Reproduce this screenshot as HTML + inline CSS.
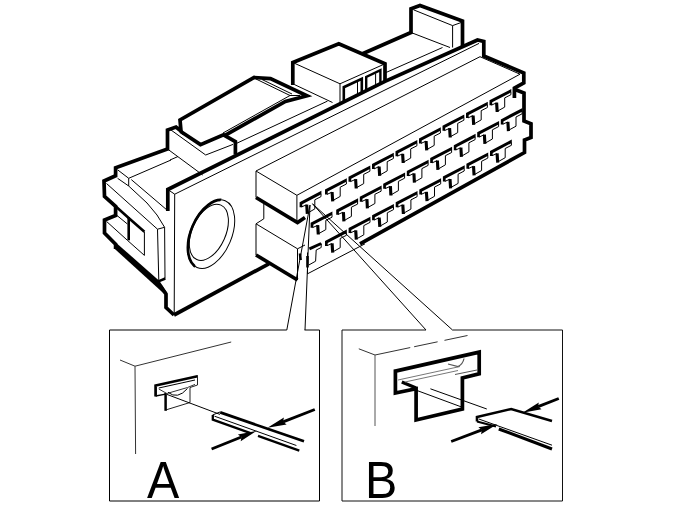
<!DOCTYPE html>
<html><head><meta charset="utf-8"><title>Connector</title>
<style>
html,body{margin:0;padding:0;background:#fff;}
body{width:674px;height:505px;overflow:hidden;position:relative;font-family:"Liberation Sans",sans-serif;}
svg{position:absolute;left:0;top:0;display:block;}
.lbl{position:absolute;font-family:"Liberation Sans",sans-serif;font-size:52px;line-height:1;color:#000;transform:scaleX(0.93);transform-origin:0 0;}
</style></head><body>
<svg width="674" height="505" viewBox="0 0 674 505">
<rect width="674" height="505" fill="#fff"/>
<path d="M174.0,315.0 L166.0,307.5 L166.0,294.0 L160.0,285.5" fill="none" stroke="#000" stroke-width="3.7" stroke-linejoin="miter" stroke-linecap="butt"/>
<path d="M114.6,241.4 L159.5,281 L167,292.5 L166.5,295 L163.5,293.2 L114.6,248.8Z" fill="#000"/>
<path d="M158.5,281.3 L165.3,278.5" fill="none" stroke="#000" stroke-width="2.5" stroke-linejoin="miter" stroke-linecap="butt"/>
<path d="M115.6,249.0 L115.6,244.3 L104.5,233.0 L104.5,220.0 L115.6,215.5 L115.6,206.3 L104.5,196.5 L104.0,181.0 L115.6,175.7 L115.6,167.8 L167.5,149.0 L167.5,130.0 L176.0,127.0 L181.0,131.0 L180.0,120.0 L254.2,77.5 L270.5,78.6 L307.0,95.7 L285.4,101.5 L224.5,135.6" fill="none" stroke="#000" stroke-width="3.7" stroke-linejoin="miter" stroke-linecap="butt"/>
<path d="M115.6,206.3 L128.7,218.0 L144.4,231.8" fill="none" stroke="#000" stroke-width="2.6" stroke-linejoin="miter" stroke-linecap="butt"/>
<path d="M128.7,217.0 L128.7,240.3" fill="none" stroke="#000" stroke-width="2.6" stroke-linejoin="miter" stroke-linecap="butt"/>
<path d="M144.4,231.8 L144.4,255.4" fill="none" stroke="#000" stroke-width="1" stroke-linejoin="miter" stroke-linecap="butt"/>
<path d="M117.0,215.5 L127.4,224.0" fill="none" stroke="#000" stroke-width="1" stroke-linejoin="miter" stroke-linecap="butt"/>
<path d="M106.5,221.4 L127.4,240.3 L144.4,255.4" fill="none" stroke="#000" stroke-width="1" stroke-linejoin="miter" stroke-linecap="butt"/>
<path d="M157.5,229.2 L158.8,281.0 L165.0,278.5 L164.6,227.3 L157.5,229.2" fill="none" stroke="#000" stroke-width="1" stroke-linejoin="miter" stroke-linecap="butt"/>
<path d="M106.5,183.5 L157.5,229.2" fill="none" stroke="#000" stroke-width="1" stroke-linejoin="miter" stroke-linecap="butt"/>
<path d="M131.3,179.6 L166.6,209.7" fill="none" stroke="#000" stroke-width="1" stroke-linejoin="miter" stroke-linecap="butt"/>
<path d="M180.4,131.2 L200.5,144.6 L223.5,134.9 L235.4,141.6 L235.4,154.5" fill="none" stroke="#000" stroke-width="3.7" stroke-linejoin="miter" stroke-linecap="butt"/>
<path d="M292.8,85.0 L292.8,62.5 L338.8,43.8 L385.0,63.8 L385.0,81.0" fill="none" stroke="#000" stroke-width="3.7" stroke-linejoin="miter" stroke-linecap="butt"/>
<path d="M362.5,53.8 L411.0,32.5 L411.0,8.8 L420.0,5.5 L462.5,21.0 L462.5,46.0" fill="none" stroke="#000" stroke-width="3.7" stroke-linejoin="miter" stroke-linecap="butt"/>
<path d="M167.8,211.0 L167.8,189.5 L385.0,81.4 L477.5,40.0 L483.8,41.5 L483.8,56.0 L523.8,73.0 L523.8,83.0 L514.4,88.0 L514.4,98.0" fill="none" stroke="#000" stroke-width="3.7" stroke-linejoin="miter" stroke-linecap="butt"/>
<path d="M515.0,89.5 L524.0,93.0 L524.0,121.0 L531.0,123.8 L531.0,137.5 L524.5,140.0 L524.5,152.5 L360.0,243.8" fill="none" stroke="#000" stroke-width="3.7" stroke-linejoin="miter" stroke-linecap="butt"/>
<path d="M174.0,315.0 L268.8,263.8" fill="none" stroke="#000" stroke-width="3.7" stroke-linejoin="miter" stroke-linecap="butt"/>
<path d="M256.0,255.0 L297.5,280.0" fill="none" stroke="#000" stroke-width="3.7" stroke-linejoin="miter" stroke-linecap="butt"/>
<path d="M256.0,197.5 L297.5,222.5 L305.0,217.5" fill="none" stroke="#000" stroke-width="3.7" stroke-linejoin="miter" stroke-linecap="butt"/>
<path d="M343.8,101.0 L343.8,87.2 L361.8,78.8 L361.8,92.5" fill="none" stroke="#000" stroke-width="2.6" stroke-linejoin="miter" stroke-linecap="butt"/>
<path d="M357.5,81.5 L357.5,94.5" fill="none" stroke="#000" stroke-width="1" stroke-linejoin="miter" stroke-linecap="butt"/>
<path d="M366.2,90.0 L366.2,77.0 L380.4,70.2 L380.4,83.0" fill="none" stroke="#000" stroke-width="2.4" stroke-linejoin="miter" stroke-linecap="butt"/>
<path d="M375.6,73.5 L375.6,85.5" fill="none" stroke="#000" stroke-width="1" stroke-linejoin="miter" stroke-linecap="butt"/>
<path d="M168.5,190.0 L174.7,194.2 L174.2,315.0" fill="none" stroke="#000" stroke-width="1" stroke-linejoin="miter" stroke-linecap="butt"/>
<defs><clipPath id="cl"><path d="M222.5,196 L170,185 L170,285 L194.5,268 Z"/></clipPath></defs>
<ellipse cx="211.1" cy="234.1" rx="20.55" ry="36.2" transform="rotate(22.9 211.1 234.1)" fill="none" stroke="#000" stroke-width="1"/>
<g clip-path="url(#cl)"><ellipse cx="211.5" cy="234.3" rx="20.55" ry="36.2" transform="rotate(22.9 211.5 234.3)" fill="none" stroke="#000" stroke-width="2.7"/></g>
<ellipse cx="208.85" cy="232.35" rx="16.8" ry="29.8" transform="rotate(24 208.85 232.35)" fill="none" stroke="#000" stroke-width="1"/>
<path d="M296.9,195.3 L256.0,171.0 L480.0,56.7 L520.0,74.2" fill="none" stroke="#000" stroke-width="1" stroke-linejoin="miter" stroke-linecap="butt"/>
<path d="M256.0,171.0 L256.0,197.5" fill="none" stroke="#000" stroke-width="1" stroke-linejoin="miter" stroke-linecap="butt"/>
<path d="M296.9,195.3 L296.9,221.0" fill="none" stroke="#000" stroke-width="1" stroke-linejoin="miter" stroke-linecap="butt"/>
<path d="M296.9,195.3 L520.0,74.2" fill="none" stroke="#000" stroke-width="1" stroke-linejoin="miter" stroke-linecap="butt"/>
<path d="M263.8,203.8 L263.8,218.8 L256.0,223.8 L256.0,255.0" fill="none" stroke="#000" stroke-width="1" stroke-linejoin="miter" stroke-linecap="butt"/>
<path d="M256.0,223.8 L297.5,248.8 L305.0,245.0" fill="none" stroke="#000" stroke-width="1" stroke-linejoin="miter" stroke-linecap="butt"/>
<path d="M297.5,248.8 L297.5,280.0" fill="none" stroke="#000" stroke-width="1" stroke-linejoin="miter" stroke-linecap="butt"/>
<path d="M307.5,252.5 L307.5,273.8 L365.0,243.8" fill="none" stroke="#000" stroke-width="1" stroke-linejoin="miter" stroke-linecap="butt"/>
<path d="M174.5,194.3 L479.0,43.4" fill="none" stroke="#000" stroke-width="1" stroke-linejoin="miter" stroke-linecap="butt"/>
<path d="M292.8,62.5 L340.0,83.8 L385.0,63.8" fill="none" stroke="#000" stroke-width="1" stroke-linejoin="miter" stroke-linecap="butt"/>
<path d="M340.0,83.8 L340.0,103.8" fill="none" stroke="#000" stroke-width="1" stroke-linejoin="miter" stroke-linecap="butt"/>
<path d="M294.3,84.5 L332.5,102.5" fill="none" stroke="#000" stroke-width="1" stroke-linejoin="miter" stroke-linecap="butt"/>
<path d="M413.5,9.8 L452.6,25.6 L452.6,47.5" fill="none" stroke="#000" stroke-width="1" stroke-linejoin="miter" stroke-linecap="butt"/>
<path d="M452.6,25.6 L462.5,22.0" fill="none" stroke="#000" stroke-width="1" stroke-linejoin="miter" stroke-linecap="butt"/>
<path d="M411.0,32.5 L450.0,47.5" fill="none" stroke="#000" stroke-width="1" stroke-linejoin="miter" stroke-linecap="butt"/>
<path d="M386.0,72.5 L442.5,47.5" fill="none" stroke="#000" stroke-width="1" stroke-linejoin="miter" stroke-linecap="butt"/>
<path d="M256.0,79.0 L290.0,95.5 L300.0,95.5" fill="none" stroke="#000" stroke-width="1" stroke-linejoin="miter" stroke-linecap="butt"/>
<path d="M290.0,95.5 L223.0,133.0" fill="none" stroke="#000" stroke-width="1" stroke-linejoin="miter" stroke-linecap="butt"/>
<path d="M262.0,79.5 L292.0,94.0" fill="none" stroke="#000" stroke-width="1" stroke-linejoin="miter" stroke-linecap="butt"/>
<path d="M167.5,149.0 L202.7,175.0" fill="none" stroke="#000" stroke-width="1" stroke-linejoin="miter" stroke-linecap="butt"/>
<path d="M170.0,160.0 L178.0,156.5" fill="none" stroke="#000" stroke-width="1" stroke-linejoin="miter" stroke-linecap="butt"/>
<path d="M171.0,130.0 L205.7,155.0 L233.0,144.4" fill="none" stroke="#000" stroke-width="1" stroke-linejoin="miter" stroke-linecap="butt"/>
<path d="M117.6,169.8 L128.7,178.3 L171.0,160.0" fill="none" stroke="#000" stroke-width="1" stroke-linejoin="miter" stroke-linecap="butt"/>
<path d="M128.7,178.3 L128.7,186.0" fill="none" stroke="#000" stroke-width="1" stroke-linejoin="miter" stroke-linecap="butt"/>
<path d="M117.6,178.3 L128.7,186.0 L147.0,203.0 L157.0,215.0 L164.6,227.3" fill="none" stroke="#000" stroke-width="1" stroke-linejoin="round" stroke-linecap="butt"/>
<path d="M236.0,143.6 L327.5,101.1" fill="none" stroke="#000" stroke-width="1" stroke-linejoin="miter" stroke-linecap="butt"/>
<path d="M310.0,205.0 L286.8,330.0" fill="none" stroke="#000" stroke-width="1" stroke-linejoin="miter" stroke-linecap="butt"/>
<path d="M310.0,205.0 L305.0,330.0" fill="none" stroke="#000" stroke-width="1" stroke-linejoin="miter" stroke-linecap="butt"/>
<path d="M312.5,203.8 L426.0,330.0" fill="none" stroke="#000" stroke-width="1" stroke-linejoin="miter" stroke-linecap="butt"/>
<path d="M312.5,203.8 L452.5,330.0" fill="none" stroke="#000" stroke-width="1" stroke-linejoin="miter" stroke-linecap="butt"/>
<path d="M299.6,202.2 L321.4,190.8 L321.4,194.2 L302.3,204.2 L302.3,207.2 L299.6,207.2Z" fill="#000"/>
<path d="M306.7,204.6 L307.3,213.8" fill="none" stroke="#000" stroke-width="3.1" stroke-linejoin="miter" stroke-linecap="butt"/>
<path d="M301.6,206.9 L306.5,204.8" fill="none" stroke="#000" stroke-width="1" stroke-linejoin="miter" stroke-linecap="butt"/>
<path d="M308.1,212.8 L314.8,208.9 L314.8,199.8 L321.0,196.6 L321.0,193.9" fill="none" stroke="#000" stroke-width="1" stroke-linejoin="miter" stroke-linecap="butt"/>
<path d="M310.6,222.8 L332.4,211.5 L332.4,214.8 L313.3,224.8 L313.3,227.8 L310.6,227.8Z" fill="#000"/>
<path d="M317.7,225.2 L318.3,234.5" fill="none" stroke="#000" stroke-width="3.1" stroke-linejoin="miter" stroke-linecap="butt"/>
<path d="M312.6,227.6 L317.5,225.4" fill="none" stroke="#000" stroke-width="1" stroke-linejoin="miter" stroke-linecap="butt"/>
<path d="M319.1,233.4 L325.8,229.6 L325.8,220.4 L332.0,217.2 L332.0,214.6" fill="none" stroke="#000" stroke-width="1" stroke-linejoin="miter" stroke-linecap="butt"/>
<path d="M325.0,189.6 L346.8,178.3 L346.8,181.6 L327.7,191.6 L327.7,194.6 L325.0,194.6Z" fill="#000"/>
<path d="M332.1,192.0 L332.7,201.3" fill="none" stroke="#000" stroke-width="3.1" stroke-linejoin="miter" stroke-linecap="butt"/>
<path d="M327.0,194.4 L331.9,192.2" fill="none" stroke="#000" stroke-width="1" stroke-linejoin="miter" stroke-linecap="butt"/>
<path d="M333.5,200.2 L340.2,196.4 L340.2,187.2 L346.4,184.0 L346.4,181.4" fill="none" stroke="#000" stroke-width="1" stroke-linejoin="miter" stroke-linecap="butt"/>
<path d="M336.2,209.7 L358.1,198.3 L358.1,201.7 L338.9,211.7 L338.9,214.7 L336.2,214.7Z" fill="#000"/>
<path d="M343.4,212.1 L343.9,221.3" fill="none" stroke="#000" stroke-width="3.1" stroke-linejoin="miter" stroke-linecap="butt"/>
<path d="M338.2,214.4 L343.1,212.2" fill="none" stroke="#000" stroke-width="1" stroke-linejoin="miter" stroke-linecap="butt"/>
<path d="M344.8,220.2 L351.4,216.4 L351.4,207.2 L357.6,204.1 L357.6,201.4" fill="none" stroke="#000" stroke-width="1" stroke-linejoin="miter" stroke-linecap="butt"/>
<path d="M325.0,240.9 L346.8,229.6 L346.8,232.9 L327.7,242.9 L327.7,245.9 L325.0,245.9Z" fill="#000"/>
<path d="M332.1,243.3 L332.7,252.6" fill="none" stroke="#000" stroke-width="3.1" stroke-linejoin="miter" stroke-linecap="butt"/>
<path d="M327.0,245.7 L331.9,243.5" fill="none" stroke="#000" stroke-width="1" stroke-linejoin="miter" stroke-linecap="butt"/>
<path d="M333.5,251.5 L340.2,247.7 L340.2,238.5 L346.4,235.3 L346.4,232.7" fill="none" stroke="#000" stroke-width="1" stroke-linejoin="miter" stroke-linecap="butt"/>
<path d="M348.5,176.8 L370.3,165.5 L370.3,168.8 L351.2,178.8 L351.2,181.8 L348.5,181.8Z" fill="#000"/>
<path d="M355.6,179.2 L356.2,188.5" fill="none" stroke="#000" stroke-width="3.1" stroke-linejoin="miter" stroke-linecap="butt"/>
<path d="M350.5,181.6 L355.4,179.4" fill="none" stroke="#000" stroke-width="1" stroke-linejoin="miter" stroke-linecap="butt"/>
<path d="M357.0,187.4 L363.7,183.6 L363.7,174.4 L369.9,171.2 L369.9,168.6" fill="none" stroke="#000" stroke-width="1" stroke-linejoin="miter" stroke-linecap="butt"/>
<path d="M359.8,196.8 L381.6,185.4 L381.6,188.8 L362.4,198.8 L362.4,201.8 L359.8,201.8Z" fill="#000"/>
<path d="M366.9,199.2 L367.4,208.4" fill="none" stroke="#000" stroke-width="3.1" stroke-linejoin="miter" stroke-linecap="butt"/>
<path d="M361.8,201.5 L366.6,199.3" fill="none" stroke="#000" stroke-width="1" stroke-linejoin="miter" stroke-linecap="butt"/>
<path d="M368.2,207.3 L374.9,203.5 L374.9,194.3 L381.1,191.2 L381.1,188.5" fill="none" stroke="#000" stroke-width="1" stroke-linejoin="miter" stroke-linecap="butt"/>
<path d="M348.6,228.0 L370.4,216.7 L370.4,220.0 L351.3,230.0 L351.3,233.0 L348.6,233.0Z" fill="#000"/>
<path d="M355.7,230.4 L356.3,239.7" fill="none" stroke="#000" stroke-width="3.1" stroke-linejoin="miter" stroke-linecap="butt"/>
<path d="M350.6,232.8 L355.5,230.6" fill="none" stroke="#000" stroke-width="1" stroke-linejoin="miter" stroke-linecap="butt"/>
<path d="M357.1,238.6 L363.8,234.8 L363.8,225.6 L370.0,222.4 L370.0,219.8" fill="none" stroke="#000" stroke-width="1" stroke-linejoin="miter" stroke-linecap="butt"/>
<path d="M372.0,164.1 L393.8,152.8 L393.8,156.1 L374.7,166.1 L374.7,169.1 L372.0,169.1Z" fill="#000"/>
<path d="M379.1,166.5 L379.7,175.8" fill="none" stroke="#000" stroke-width="3.1" stroke-linejoin="miter" stroke-linecap="butt"/>
<path d="M374.0,168.9 L378.9,166.7" fill="none" stroke="#000" stroke-width="1" stroke-linejoin="miter" stroke-linecap="butt"/>
<path d="M380.5,174.7 L387.2,170.9 L387.2,161.7 L393.4,158.5 L393.4,155.9" fill="none" stroke="#000" stroke-width="1" stroke-linejoin="miter" stroke-linecap="butt"/>
<path d="M383.2,183.8 L405.1,172.5 L405.1,175.8 L385.9,185.8 L385.9,188.8 L383.2,188.8Z" fill="#000"/>
<path d="M390.4,186.2 L390.9,195.5" fill="none" stroke="#000" stroke-width="3.1" stroke-linejoin="miter" stroke-linecap="butt"/>
<path d="M385.2,188.6 L390.1,186.4" fill="none" stroke="#000" stroke-width="1" stroke-linejoin="miter" stroke-linecap="butt"/>
<path d="M391.8,194.4 L398.4,190.6 L398.4,181.4 L404.6,178.2 L404.6,175.6" fill="none" stroke="#000" stroke-width="1" stroke-linejoin="miter" stroke-linecap="butt"/>
<path d="M372.1,215.2 L393.9,203.9 L393.9,207.2 L374.8,217.2 L374.8,220.2 L372.1,220.2Z" fill="#000"/>
<path d="M379.2,217.6 L379.8,226.9" fill="none" stroke="#000" stroke-width="3.1" stroke-linejoin="miter" stroke-linecap="butt"/>
<path d="M374.1,220.0 L379.0,217.8" fill="none" stroke="#000" stroke-width="1" stroke-linejoin="miter" stroke-linecap="butt"/>
<path d="M380.6,225.8 L387.3,222.0 L387.3,212.8 L393.5,209.6 L393.5,207.0" fill="none" stroke="#000" stroke-width="1" stroke-linejoin="miter" stroke-linecap="butt"/>
<path d="M395.5,151.3 L417.3,140.0 L417.3,143.3 L398.2,153.3 L398.2,156.3 L395.5,156.3Z" fill="#000"/>
<path d="M402.6,153.8 L403.2,163.0" fill="none" stroke="#000" stroke-width="3.1" stroke-linejoin="miter" stroke-linecap="butt"/>
<path d="M397.5,156.1 L402.4,153.9" fill="none" stroke="#000" stroke-width="1" stroke-linejoin="miter" stroke-linecap="butt"/>
<path d="M404.0,161.9 L410.7,158.1 L410.7,148.9 L416.9,145.8 L416.9,143.1" fill="none" stroke="#000" stroke-width="1" stroke-linejoin="miter" stroke-linecap="butt"/>
<path d="M406.8,171.0 L428.6,159.7 L428.6,163.0 L409.4,173.0 L409.4,176.0 L406.8,176.0Z" fill="#000"/>
<path d="M413.9,173.4 L414.4,182.7" fill="none" stroke="#000" stroke-width="3.1" stroke-linejoin="miter" stroke-linecap="butt"/>
<path d="M408.8,175.8 L413.6,173.6" fill="none" stroke="#000" stroke-width="1" stroke-linejoin="miter" stroke-linecap="butt"/>
<path d="M415.2,181.6 L421.9,177.8 L421.9,168.6 L428.1,165.4 L428.1,162.8" fill="none" stroke="#000" stroke-width="1" stroke-linejoin="miter" stroke-linecap="butt"/>
<path d="M395.7,202.3 L417.5,191.0 L417.5,194.3 L398.4,204.3 L398.4,207.3 L395.7,207.3Z" fill="#000"/>
<path d="M402.8,204.7 L403.4,214.0" fill="none" stroke="#000" stroke-width="3.1" stroke-linejoin="miter" stroke-linecap="butt"/>
<path d="M397.7,207.1 L402.6,204.9" fill="none" stroke="#000" stroke-width="1" stroke-linejoin="miter" stroke-linecap="butt"/>
<path d="M404.2,212.9 L410.9,209.1 L410.9,199.9 L417.1,196.7 L417.1,194.1" fill="none" stroke="#000" stroke-width="1" stroke-linejoin="miter" stroke-linecap="butt"/>
<path d="M419.0,138.6 L440.8,127.3 L440.8,130.6 L421.7,140.6 L421.7,143.6 L419.0,143.6Z" fill="#000"/>
<path d="M426.1,141.0 L426.7,150.3" fill="none" stroke="#000" stroke-width="3.1" stroke-linejoin="miter" stroke-linecap="butt"/>
<path d="M421.0,143.4 L425.9,141.2" fill="none" stroke="#000" stroke-width="1" stroke-linejoin="miter" stroke-linecap="butt"/>
<path d="M427.5,149.2 L434.2,145.4 L434.2,136.2 L440.4,133.0 L440.4,130.4" fill="none" stroke="#000" stroke-width="1" stroke-linejoin="miter" stroke-linecap="butt"/>
<path d="M430.2,158.1 L452.1,146.8 L452.1,150.1 L432.9,160.1 L432.9,163.1 L430.2,163.1Z" fill="#000"/>
<path d="M437.4,160.5 L437.9,169.8" fill="none" stroke="#000" stroke-width="3.1" stroke-linejoin="miter" stroke-linecap="butt"/>
<path d="M432.2,162.8 L437.1,160.7" fill="none" stroke="#000" stroke-width="1" stroke-linejoin="miter" stroke-linecap="butt"/>
<path d="M438.8,168.7 L445.4,164.8 L445.4,155.7 L451.6,152.5 L451.6,149.8" fill="none" stroke="#000" stroke-width="1" stroke-linejoin="miter" stroke-linecap="butt"/>
<path d="M419.3,189.5 L441.1,178.2 L441.1,181.5 L422.0,191.5 L422.0,194.5 L419.3,194.5Z" fill="#000"/>
<path d="M426.4,191.9 L427.0,201.2" fill="none" stroke="#000" stroke-width="3.1" stroke-linejoin="miter" stroke-linecap="butt"/>
<path d="M421.3,194.3 L426.2,192.1" fill="none" stroke="#000" stroke-width="1" stroke-linejoin="miter" stroke-linecap="butt"/>
<path d="M427.8,200.1 L434.5,196.3 L434.5,187.1 L440.7,183.9 L440.7,181.3" fill="none" stroke="#000" stroke-width="1" stroke-linejoin="miter" stroke-linecap="butt"/>
<path d="M442.5,125.8 L464.3,114.5 L464.3,117.8 L445.2,127.8 L445.2,130.8 L442.5,130.8Z" fill="#000"/>
<path d="M449.6,128.2 L450.2,137.5" fill="none" stroke="#000" stroke-width="3.1" stroke-linejoin="miter" stroke-linecap="butt"/>
<path d="M444.5,130.6 L449.4,128.4" fill="none" stroke="#000" stroke-width="1" stroke-linejoin="miter" stroke-linecap="butt"/>
<path d="M451.0,136.4 L457.7,132.6 L457.7,123.4 L463.9,120.2 L463.9,117.6" fill="none" stroke="#000" stroke-width="1" stroke-linejoin="miter" stroke-linecap="butt"/>
<path d="M453.8,145.2 L475.6,133.8 L475.6,137.2 L456.4,147.2 L456.4,150.2 L453.8,150.2Z" fill="#000"/>
<path d="M460.9,147.6 L461.4,156.8" fill="none" stroke="#000" stroke-width="3.1" stroke-linejoin="miter" stroke-linecap="butt"/>
<path d="M455.8,149.9 L460.6,147.8" fill="none" stroke="#000" stroke-width="1" stroke-linejoin="miter" stroke-linecap="butt"/>
<path d="M462.2,155.8 L468.9,151.9 L468.9,142.8 L475.1,139.6 L475.1,136.9" fill="none" stroke="#000" stroke-width="1" stroke-linejoin="miter" stroke-linecap="butt"/>
<path d="M442.9,176.6 L464.7,165.3 L464.7,168.6 L445.6,178.6 L445.6,181.6 L442.9,181.6Z" fill="#000"/>
<path d="M450.0,179.0 L450.6,188.3" fill="none" stroke="#000" stroke-width="3.1" stroke-linejoin="miter" stroke-linecap="butt"/>
<path d="M444.9,181.4 L449.8,179.2" fill="none" stroke="#000" stroke-width="1" stroke-linejoin="miter" stroke-linecap="butt"/>
<path d="M451.4,187.2 L458.1,183.4 L458.1,174.2 L464.2,171.0 L464.2,168.4" fill="none" stroke="#000" stroke-width="1" stroke-linejoin="miter" stroke-linecap="butt"/>
<path d="M466.0,113.1 L487.8,101.8 L487.8,105.1 L468.7,115.1 L468.7,118.1 L466.0,118.1Z" fill="#000"/>
<path d="M473.1,115.5 L473.7,124.8" fill="none" stroke="#000" stroke-width="3.1" stroke-linejoin="miter" stroke-linecap="butt"/>
<path d="M468.0,117.9 L472.9,115.7" fill="none" stroke="#000" stroke-width="1" stroke-linejoin="miter" stroke-linecap="butt"/>
<path d="M474.5,123.7 L481.2,119.9 L481.2,110.7 L487.4,107.5 L487.4,104.9" fill="none" stroke="#000" stroke-width="1" stroke-linejoin="miter" stroke-linecap="butt"/>
<path d="M477.2,132.2 L499.1,120.9 L499.1,124.2 L479.9,134.2 L479.9,137.2 L477.2,137.2Z" fill="#000"/>
<path d="M484.4,134.7 L484.9,143.9" fill="none" stroke="#000" stroke-width="3.1" stroke-linejoin="miter" stroke-linecap="butt"/>
<path d="M479.2,137.0 L484.1,134.8" fill="none" stroke="#000" stroke-width="1" stroke-linejoin="miter" stroke-linecap="butt"/>
<path d="M485.8,142.8 L492.4,139.0 L492.4,129.8 L498.6,126.6 L498.6,124.0" fill="none" stroke="#000" stroke-width="1" stroke-linejoin="miter" stroke-linecap="butt"/>
<path d="M466.4,163.7 L488.2,152.4 L488.2,155.7 L469.1,165.7 L469.1,168.7 L466.4,168.7Z" fill="#000"/>
<path d="M473.5,166.1 L474.1,175.4" fill="none" stroke="#000" stroke-width="3.1" stroke-linejoin="miter" stroke-linecap="butt"/>
<path d="M468.4,168.5 L473.3,166.3" fill="none" stroke="#000" stroke-width="1" stroke-linejoin="miter" stroke-linecap="butt"/>
<path d="M474.9,174.3 L481.6,170.5 L481.6,161.3 L487.8,158.1 L487.8,155.5" fill="none" stroke="#000" stroke-width="1" stroke-linejoin="miter" stroke-linecap="butt"/>
<path d="M489.5,100.3 L511.3,89.0 L511.3,92.3 L492.2,102.3 L492.2,105.3 L489.5,105.3Z" fill="#000"/>
<path d="M496.6,102.7 L497.2,112.0" fill="none" stroke="#000" stroke-width="3.1" stroke-linejoin="miter" stroke-linecap="butt"/>
<path d="M491.5,105.1 L496.4,102.9" fill="none" stroke="#000" stroke-width="1" stroke-linejoin="miter" stroke-linecap="butt"/>
<path d="M498.0,110.9 L504.7,107.1 L504.7,97.9 L510.9,94.7 L510.9,92.1" fill="none" stroke="#000" stroke-width="1" stroke-linejoin="miter" stroke-linecap="butt"/>
<path d="M500.8,119.4 L522.5,108.0 L522.5,111.4 L503.4,121.4 L503.4,124.4 L500.8,124.4Z" fill="#000"/>
<path d="M507.9,121.8 L508.4,131.1" fill="none" stroke="#000" stroke-width="3.1" stroke-linejoin="miter" stroke-linecap="butt"/>
<path d="M502.8,124.2 L507.6,122.0" fill="none" stroke="#000" stroke-width="1" stroke-linejoin="miter" stroke-linecap="butt"/>
<path d="M509.2,129.9 L516.0,126.2 L516.0,117.0 L522.1,113.8 L522.1,111.2" fill="none" stroke="#000" stroke-width="1" stroke-linejoin="miter" stroke-linecap="butt"/>
<path d="M490.0,150.9 L511.8,139.6 L511.8,142.9 L492.7,152.9 L492.7,155.9 L490.0,155.9Z" fill="#000"/>
<path d="M497.1,153.3 L497.7,162.6" fill="none" stroke="#000" stroke-width="3.1" stroke-linejoin="miter" stroke-linecap="butt"/>
<path d="M492.0,155.7 L496.9,153.5" fill="none" stroke="#000" stroke-width="1" stroke-linejoin="miter" stroke-linecap="butt"/>
<path d="M498.5,161.5 L505.2,157.7 L505.2,148.5 L511.4,145.3 L511.4,142.7" fill="none" stroke="#000" stroke-width="1" stroke-linejoin="miter" stroke-linecap="butt"/>
<path d="M300.0,253.5 L300.6,260.0" fill="none" stroke="#000" stroke-width="2.6" stroke-linejoin="miter" stroke-linecap="butt"/>
<path d="M307.5,256.0 L307.5,267.5" fill="none" stroke="#000" stroke-width="2.6" stroke-linejoin="miter" stroke-linecap="butt"/>
<path d="M309.4,248.9 L321.2,243.5" fill="none" stroke="#000" stroke-width="2.9" stroke-linejoin="miter" stroke-linecap="butt"/>
<path d="M321.2,243.5 L321.2,247.5 L316.2,250.0 L315.6,261.2 L308.8,265.0" fill="none" stroke="#000" stroke-width="1" stroke-linejoin="miter" stroke-linecap="butt"/>
<path d="M286.8,330.0 L109.5,330.0 L109.5,501.0 L319.5,501.0 L319.5,330.0 L304.5,330.0" fill="none" stroke="#000" stroke-width="1" stroke-linejoin="miter" stroke-linecap="butt"/>
<path d="M426.0,330.0 L342.0,330.0 L342.0,501.0 L562.5,501.0 L562.5,330.0 L452.5,330.0" fill="none" stroke="#111" stroke-width="1" stroke-linejoin="miter" stroke-linecap="butt"/>
<path d="M120.0,360.0 L135.0,366.2 L231.2,342.0" fill="none" stroke="#333" stroke-width="1" stroke-linejoin="miter" stroke-linecap="butt"/>
<path d="M135.0,366.2 L135.6,454.0" fill="none" stroke="#333" stroke-width="1" stroke-linejoin="miter" stroke-linecap="butt"/>
<path d="M155.6,396.4 L155.6,385.5 L197.5,376.3" fill="none" stroke="#000" stroke-width="2.7" stroke-linejoin="miter" stroke-linecap="butt"/>
<path d="M197.5,375.2 L197.5,385.0 L190.0,387.5 L190.0,402.5 L165.6,410.0" fill="none" stroke="#222" stroke-width="1" stroke-linejoin="miter" stroke-linecap="butt"/>
<path d="M165.6,393.0 L165.6,410.8" fill="none" stroke="#000" stroke-width="2.5" stroke-linejoin="miter" stroke-linecap="butt"/>
<path d="M155.6,396.0 L165.6,394.2" fill="none" stroke="#000" stroke-width="1.3" stroke-linejoin="miter" stroke-linecap="butt"/>
<path d="M158.8,388.0 L195.0,380.0" fill="none" stroke="#000" stroke-width="1" stroke-linejoin="miter" stroke-linecap="butt"/>
<path d="M158.8,389.0 L166.9,393.5 L187.5,387.5 L195.0,384.4" fill="none" stroke="#333" stroke-width="1" stroke-linejoin="miter" stroke-linecap="butt"/>
<path d="M166.9,394.4 L220.0,414.4" fill="none" stroke="#000" stroke-width="1" stroke-linejoin="miter" stroke-linecap="butt"/>
<path d="M168,392.3 Q177.5,400 187.5,388.5" fill="none" stroke="#000" stroke-width="1"/>
<path d="M220.2,412.4 L304.0,441.3" fill="none" stroke="#000" stroke-width="2.7" stroke-linejoin="miter" stroke-linecap="butt"/>
<path d="M214.5,416.2 L296.4,445.5" fill="none" stroke="#000" stroke-width="1" stroke-linejoin="miter" stroke-linecap="butt"/>
<path d="M212.8,415.0 L212.8,419.6 L250.5,433.1" fill="none" stroke="#000" stroke-width="2.3" stroke-linejoin="miter" stroke-linecap="butt"/>
<path d="M258.0,435.8 L299.3,450.6" fill="none" stroke="#000" stroke-width="2.3" stroke-linejoin="miter" stroke-linecap="butt"/>
<path d="M212.5,415.0 L220.0,412.0" fill="none" stroke="#000" stroke-width="1" stroke-linejoin="miter" stroke-linecap="butt"/>
<path d="M314.8,409.5 L283.1,421.8" fill="none" stroke="#000" stroke-width="2.9" stroke-linejoin="miter" stroke-linecap="butt"/>
<path d="M267.5,427.8 L283.9,417.5 L283.1,421.8 L286.6,424.4Z" fill="#000"/>
<path d="M211.6,449.0 L241.4,437.0" fill="none" stroke="#000" stroke-width="2.9" stroke-linejoin="miter" stroke-linecap="butt"/>
<path d="M256.9,430.7 L240.7,441.2 L241.4,437.0 L237.9,434.4Z" fill="#000"/>
<path d="M358.8,348.8 L375.0,355.0" fill="none" stroke="#333" stroke-width="1" stroke-linejoin="miter" stroke-linecap="butt"/>
<path d="M375,355 L467.5,335.5" fill="none" stroke="#333" stroke-width="1" stroke-dasharray="36 4 24 7 24 10"/>
<path d="M375.0,355.0 L375.0,426.0" fill="none" stroke="#555" stroke-width="1" stroke-linejoin="miter" stroke-linecap="butt"/>
<path d="M395.4,371.1 L479.2,352.1 L479.2,373.7 L462.4,377.9 L462.4,409.0 L416.1,420.0 L416.1,388.8 L395.4,393.0Z" fill="none" stroke="#000" stroke-width="3.7" stroke-linejoin="miter" stroke-linecap="butt"/>
<path d="M401.8,382.0 L416.1,388.0" fill="none" stroke="#000" stroke-width="3.4" stroke-linejoin="miter" stroke-linecap="butt"/>
<path d="M398.0,380.0 L460.0,366.5" fill="none" stroke="#777" stroke-width="1" stroke-linejoin="miter" stroke-linecap="butt"/>
<path d="M405.0,382.0 L458.0,370.5" fill="none" stroke="#777" stroke-width="1" stroke-linejoin="miter" stroke-linecap="butt"/>
<path d="M455.0,374.5 L477.0,370.0" fill="none" stroke="#555" stroke-width="1" stroke-linejoin="miter" stroke-linecap="butt"/>
<path d="M448,364 L458,366.5 Q463,364 464,358.5" fill="none" stroke="#555" stroke-width="1.2"/>
<path d="M417.0,390.5 L462.4,407.3" fill="none" stroke="#000" stroke-width="1" stroke-linejoin="miter" stroke-linecap="butt"/>
<path d="M430.4,388.8 L486.8,409.0" fill="none" stroke="#000" stroke-width="1" stroke-linejoin="miter" stroke-linecap="butt"/>
<path d="M477.0,421.5 L477.0,417.0 L511.2,409.0 L552.0,421.0" fill="none" stroke="#000" stroke-width="2.6" stroke-linejoin="miter" stroke-linecap="butt"/>
<path d="M478.8,419.0 L552.0,445.2" fill="none" stroke="#000" stroke-width="1" stroke-linejoin="miter" stroke-linecap="butt"/>
<path d="M477.0,421.5 L496.0,426.5" fill="none" stroke="#000" stroke-width="2" stroke-linejoin="miter" stroke-linecap="butt"/>
<path d="M498.8,429.0 L552.0,449.0" fill="none" stroke="#000" stroke-width="3" stroke-linejoin="miter" stroke-linecap="butt"/>
<path d="M558.8,398.5 L538.1,406.6" fill="none" stroke="#000" stroke-width="2.9" stroke-linejoin="miter" stroke-linecap="butt"/>
<path d="M522.5,412.8 L538.8,402.4 L538.1,406.6 L541.5,409.2Z" fill="#000"/>
<path d="M451.2,441.5 L481.9,429.9" fill="none" stroke="#000" stroke-width="2.9" stroke-linejoin="miter" stroke-linecap="butt"/>
<path d="M497.5,424.0 L481.0,434.2 L481.9,429.9 L478.4,427.3Z" fill="#000"/>
</svg>
<div class="lbl" id="la" style="left:146.5px;top:454px;">A</div>
<div class="lbl" id="lb" style="left:365px;top:454px;">B</div>
</body></html>
